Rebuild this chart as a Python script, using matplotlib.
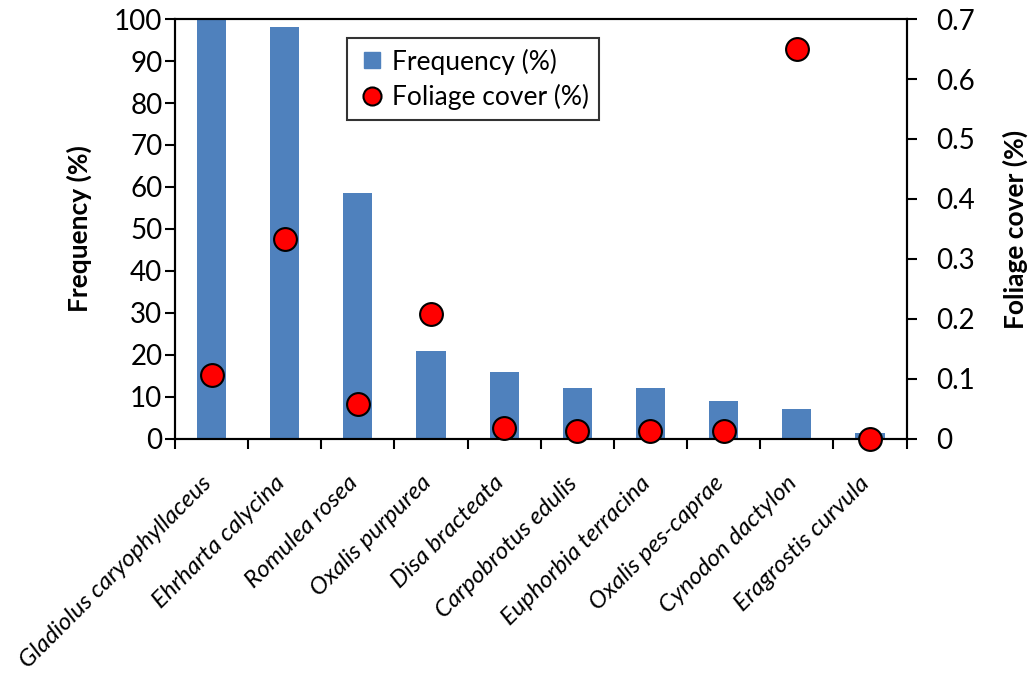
import matplotlib
matplotlib.use('Agg')
import matplotlib.pyplot as plt
import matplotlib.transforms as mtransforms
from matplotlib.lines import Line2D
import numpy as np

plt.rcParams['font.family'] = ['Lato', 'DejaVu Sans']

species = ['Gladiolus caryophyllaceus', 'Ehrharta calycina', 'Romulea rosea',
           'Oxalis purpurea', 'Disa bracteata', 'Carpobrotus edulis',
           'Euphorbia terracina', 'Oxalis pes-caprae', 'Cynodon dactylon',
           'Eragrostis curvula']
frequency = [100, 98, 58.6, 21.0, 16.0, 12.1, 12.1, 9.0, 7.1, 1.4]
foliage = [0.107, 0.333, 0.058, 0.208, 0.018, 0.013, 0.013, 0.013, 0.65, 0.0]

BAR_COLOR = '#4F81BD'

fig = plt.figure(figsize=(10.29, 6.74), dpi=100)
ax = fig.add_axes([0.170, 0.3487, 0.711, 0.6231])
x = np.arange(len(species))

ax.bar(x, frequency, width=0.4, color=BAR_COLOR, zorder=2)
ax.set_xlim(-0.5, len(species) - 0.5)
ax.set_ylim(0, 100)
ax.set_yticks(np.arange(0, 101, 10))
ax.set_ylabel('Frequency (%)', fontsize=19, fontweight='bold', labelpad=16)

ax.set_xticks(x)
ax.set_xticklabels(species, rotation=45, ha='right', rotation_mode='anchor',
                   style='italic', fontsize=17.5)
ax.tick_params(axis='x', which='major', length=0, pad=24)
# nudge the slanted names a little to the left of the bar centres
shift = mtransforms.ScaledTranslation(-11 / 100, 0, fig.dpi_scale_trans)
for lbl in ax.get_xticklabels():
    lbl.set_transform(lbl.get_transform() + shift)
ax.set_xticks(np.arange(-0.5, len(species), 1), minor=True)
ax.tick_params(axis='x', which='minor', length=7, width=1.5, direction='out')
ax.tick_params(axis='y', labelsize=20, length=7, width=1.5, direction='out', pad=2)

ax2 = ax.twinx()
ax2.scatter(x, foliage, s=270, color='#FF0000', edgecolor='black',
            linewidth=1.5, zorder=3, clip_on=False)
ax2.set_ylim(0, 0.7)
ax2.set_yticks(np.arange(0, 0.71, 0.1))
ax2.set_yticklabels(['0'] + ['%.1f' % v for v in np.arange(0.1, 0.71, 0.1)])
ax2.tick_params(axis='y', labelsize=20, length=7, width=1.5, direction='out', pad=14)
ax2.set_ylabel('Foliage cover (%)', fontsize=19, fontweight='bold', labelpad=20)

for a in (ax, ax2):
    for s in a.spines.values():
        s.set_linewidth(1.5)

handles = [
    Line2D([], [], marker='s', linestyle='none', markersize=12,
           markerfacecolor=BAR_COLOR, markeredgecolor=BAR_COLOR),
    Line2D([], [], marker='o', linestyle='none', markersize=13,
           markerfacecolor='#FF0000', markeredgecolor='black', markeredgewidth=1.5),
]
leg = ax2.legend(handles, ['Frequency (%)', 'Foliage cover (%)'],
                 loc='upper left', bbox_to_anchor=(0.235, 0.955), borderaxespad=0,
                 fontsize=19, frameon=True, fancybox=False, edgecolor='black',
                 handletextpad=0.2, handlelength=1.1, borderpad=0.4, labelspacing=0.35)
leg.get_frame().set_linewidth(1.5)

fig.savefig('out.png', dpi=100)
